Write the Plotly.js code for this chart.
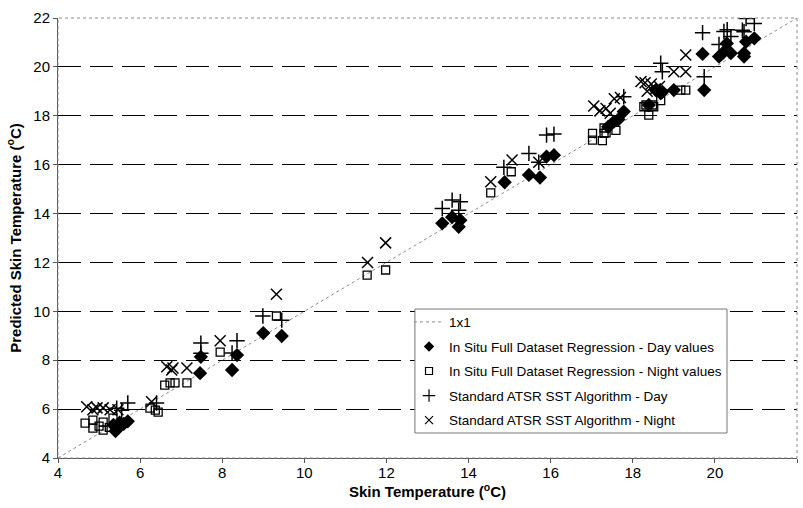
<!DOCTYPE html>
<html>
<head>
<meta charset="utf-8">
<script src="https://cdn.plot.ly/plotly-3.0.1.min.js"></script>
<style>
  html, body { margin: 0; padding: 0; background: #ffffff; }
  #chart { width: 803px; height: 508px; }
</style>
</head>
<body>
<div id="chart"></div>
<script>
// Reference line (1:1)
const oneToOneX = [4, 22];
const oneToOneY = [4, 22];

// In situ full dataset regression - day values
const regDayX = [5.35, 5.45, 5.5, 5.6, 5.7, 5.4, 7.46, 7.48, 8.24, 8.36, 9.0, 9.45,
  13.36, 13.6, 13.8, 13.76, 14.88, 15.47, 15.74, 15.9, 16.08,
  17.4, 17.54, 17.65, 17.78, 18.39, 18.56, 18.68, 18.72, 19.0, 19.7, 19.74,
  20.1, 20.19, 20.29, 20.39, 20.71, 20.71, 20.76, 20.96];
const regDayY = [5.35, 5.2, 5.45, 5.4, 5.5, 5.1, 7.47, 8.14, 7.6, 8.21, 9.11, 8.99,
  13.6, 13.85, 13.73, 13.46, 15.28, 15.58, 15.47, 16.33, 16.39,
  17.55, 17.76, 17.85, 18.17, 18.44, 19.05, 18.92, 18.98, 19.05, 20.53, 19.05,
  20.42, 20.56, 20.96, 20.56, 20.56, 20.42, 21.03, 21.17];

// In situ full dataset regression - night values
const regNightX = [4.66, 4.85, 5.1, 4.85, 5.1, 5.34, 5.0, 5.25,
  6.24, 6.37, 6.44, 6.6, 6.73, 6.85, 7.14, 7.95, 9.32, 11.53, 11.98,
  14.54, 15.04, 17.02, 17.02, 17.26, 17.3, 17.35, 17.59, 17.3,
  18.27, 18.32, 18.48, 18.39, 18.51, 18.68, 19.17, 19.29];
const regNightY = [5.43, 5.22, 5.14, 5.55, 5.47, 5.63, 5.3, 5.25,
  6.04, 5.96, 5.88, 6.98, 7.07, 7.07, 7.07, 8.33, 9.81, 11.48, 11.69,
  14.85, 15.71, 17.28, 17.0, 16.98, 17.28, 17.3, 17.4, 17.5,
  18.37, 18.44, 18.44, 18.03, 18.37, 18.62, 19.05, 19.05];

// Standard ATSR SST algorithm - day
const atsrDayX = [5.43, 5.55, 5.7, 6.4, 7.48, 7.48, 8.24, 8.36, 8.99, 9.45,
  13.36, 13.6, 13.8, 13.76, 14.86, 15.47, 15.71, 15.9, 16.08, 17.78,
  18.68, 18.72, 19.7, 19.74, 20.1, 20.22, 20.3, 20.39, 20.67, 20.71, 20.76, 20.96];
const atsrDayY = [6.04, 5.95, 6.25, 6.25, 8.7, 8.29, 8.3, 8.8, 9.81, 9.64,
  14.21, 14.55, 14.48, 14.14, 15.89, 16.46, 16.1, 17.21, 17.25, 18.78,
  20.15, 19.8, 21.4, 19.6, 20.92, 21.45, 21.52, 21.24, 21.5, 21.44, 21.98, 21.78];

// Standard ATSR SST algorithm - night
const atsrNightX = [4.7, 4.85, 5.1, 5.27, 5.46, 4.95, 6.28, 6.65, 6.77, 6.8, 7.14,
  7.95, 9.32, 11.54, 11.98, 14.54, 15.06, 15.71,
  17.05, 17.2, 17.35, 17.45, 17.55, 17.7, 18.2, 18.3, 18.45, 18.55, 18.65, 18.35,
  19.0, 19.29, 19.29];
const atsrNightY = [6.1, 5.97, 6.05, 5.97, 5.97, 6.05, 6.3, 7.73, 7.6, 7.68, 7.68,
  8.8, 10.7, 12.0, 12.8, 15.3, 16.19, 16.1,
  18.4, 18.2, 18.3, 18.1, 18.7, 18.75, 19.4, 19.35, 19.3, 19.1, 19.2, 19.0,
  19.8, 19.8, 20.49];

const seriesNames = [
  '1x1',
  'In Situ Full Dataset Regression - Day values',
  'In Situ Full Dataset Regression - Night values',
  'Standard ATSR SST Algorithm - Day',
  'Standard ATSR SST Algorithm - Night'
];

// Styles shared by the plotted series and their (smaller) legend keys
const lineStyle = { color: '#8a8a8a', width: 1, dash: 'dot' };
const markerStyles = [
  null,
  { symbol: 'diamond', size: 11, color: '#000000' },
  { symbol: 'square-open', size: 8, color: '#000000', line: { width: 1.3 } },
  { symbol: 'cross-thin-open', size: 11, color: '#000000', line: { width: 1.5, color: '#000000' } },
  { symbol: 'x-thin-open', size: 11, color: '#000000', line: { width: 1.5, color: '#000000' } }
];
const legendMarkerSizes = [0, 8, 7, 9, 8];

const dataX = [oneToOneX, regDayX, regNightX, atsrDayX, atsrNightX];
const dataY = [oneToOneY, regDayY, regNightY, atsrDayY, atsrNightY];

const traces = [];
dataX.forEach((xs, i) => {
  const t = {
    x: xs, y: dataY[i], name: seriesNames[i], type: 'scatter',
    showlegend: false, hoverinfo: 'skip'
  };
  if (i === 0) { t.mode = 'lines'; t.line = lineStyle; }
  else { t.mode = 'markers'; t.marker = markerStyles[i]; }
  traces.push(t);
});

// Legend keys: empty traces carrying the series names with compact symbols
seriesNames.forEach((name, i) => {
  const k = {
    x: [null], y: [null], name: name, type: 'scatter',
    legendgroup: 'g' + i, showlegend: true
  };
  if (i === 0) { k.mode = 'lines'; k.line = lineStyle; }
  else {
    k.mode = 'markers';
    k.marker = Object.assign({}, markerStyles[i], { size: legendMarkerSizes[i] });
    if (markerStyles[i].line) k.marker.line = { width: 1.2, color: '#000000' };
  }
  traces.push(k);
});

const fontFamily = 'Arial, "Liberation Sans", sans-serif';
const axisFont = { family: fontFamily, size: 15, color: '#000000' };
const titleFont = { family: fontFamily, size: 15, color: '#000000', weight: 'bold' };

const layout = {
  width: 803, height: 508,
  margin: { l: 58, r: 6, t: 18, b: 50 },
  paper_bgcolor: '#ffffff', plot_bgcolor: '#ffffff',
  font: { family: fontFamily, color: '#000000' },
  showlegend: true,
  legend: {
    x: 0.475, y: 0.344, xanchor: 'left', yanchor: 'top',
    bgcolor: 'rgba(0,0,0,0)', borderwidth: 0,
    font: { family: fontFamily, size: 13.5, color: '#000000' },
    traceorder: 'grouped', tracegroupgap: 4
  },
  xaxis: {
    range: [4, 22], dtick: 2, tick0: 4,
    showgrid: false, zeroline: false,
    showline: true, linecolor: '#555555', linewidth: 1,
    ticks: 'outside', ticklen: 4, tickcolor: '#555555',
    ticklabelstandoff: -3,
    tickfont: axisFont,
    title: { text: '<b>Skin Temperature (<sup>o</sup>C)</b>', font: titleFont, standoff: 4 }
  },
  yaxis: {
    range: [4, 22], dtick: 2, tick0: 4,
    showgrid: true, gridcolor: '#000000', gridwidth: 1, griddash: '23px,9px',
    zeroline: false,
    showline: true, linecolor: '#555555', linewidth: 1,
    ticks: 'outside', ticklen: 4, tickcolor: '#555555',
    tickfont: axisFont,
    title: { text: '<b>Predicted Skin Temperature (<sup>o</sup>C)</b>', font: titleFont, standoff: 8 }
  },
  shapes: [
    // dotted frame round the plotting area
    {
      type: 'rect', xref: 'paper', yref: 'paper', x0: 0, x1: 1, y0: 0, y1: 1,
      line: { color: '#8a8a8a', width: 1, dash: 'dot' }, layer: 'above'
    },
    // legend box
    {
      type: 'rect', xref: 'paper', yref: 'paper',
      x0: 0.483, x1: 0.9053, y0: 0.0568, y1: 0.3386,
      fillcolor: '#ffffff', line: { color: '#777777', width: 1 }, layer: 'above'
    }
  ]
};

Plotly.newPlot('chart', traces, layout, { displayModeBar: false, staticPlot: true });
</script>
</body>
</html>
